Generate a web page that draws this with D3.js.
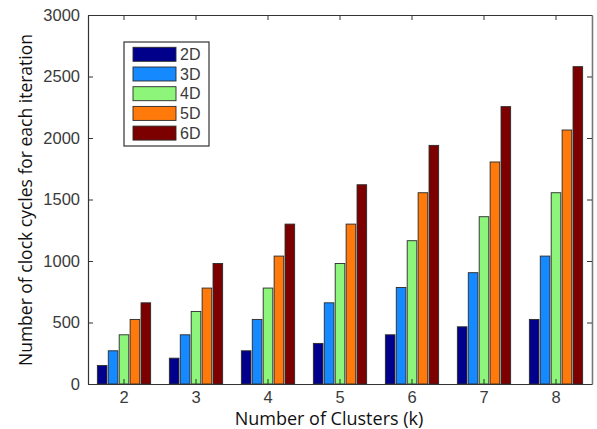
<!DOCTYPE html>
<html>
<head>
<meta charset="utf-8">
<script src="https://cdn.jsdelivr.net/npm/d3@7"></script>
<style>
  body { margin: 0; background: #fff; }
  svg { display: block; }
</style>
</head>
<body>
<div id="chart"></div>
<script>
// Data
const clusters = [2, 3, 4, 5, 6, 7, 8];
const seriesNames = ["2D", "3D", "4D", "5D", "6D"];
const seriesColors = ["#00008b", "#1589ff", "#8cf57a", "#ff7a0a", "#7d0000"];
const cycles2D = [150, 210, 270, 330, 400, 465, 525];
const cycles3D = [270, 400, 525, 660, 785, 905, 1040];
const cycles4D = [400, 590, 780, 980, 1165, 1360, 1555];
const cycles5D = [525, 780, 1040, 1300, 1555, 1805, 2065];
const cycles6D = [660, 980, 1300, 1620, 1940, 2255, 2580];
const yTicks = [0, 500, 1000, 1500, 2000, 2500, 3000];

const values = [cycles2D, cycles3D, cycles4D, cycles5D, cycles6D];

const width = 597, height = 429;
const margin = { top: 15, right: 5, bottom: 45, left: 88 };

const svg = d3.select("#chart").append("svg")
    .attr("width", width)
    .attr("height", height);

// Scales
const x = d3.scaleBand()
    .domain(clusters)
    .range([margin.left, width - margin.right])
    .padding(0);

const bw = x.bandwidth();
const xInner = d3.scaleBand()
    .domain(seriesNames)
    .range([bw * 0.13, bw * 0.87])
    .paddingInner(0.12);

const y = d3.scaleLinear()
    .domain([0, 3000])
    .range([height - margin.bottom, margin.top]);

// Bars
const rows = [];
clusters.forEach((k, i) => {
    seriesNames.forEach((s, j) => {
        rows.push({ k: k, s: s, v: values[j][i], c: seriesColors[j] });
    });
});

svg.append("g")
    .selectAll("rect")
    .data(rows)
    .join("rect")
    .attr("x", d => x(d.k) + xInner(d.s))
    .attr("y", d => y(d.v))
    .attr("width", xInner.bandwidth())
    .attr("height", d => y(0) - y(d.v))
    .attr("fill", d => d.c)
    .attr("stroke", "#2a2a2a")
    .attr("stroke-width", 0.9);

// Axes (ticks pointing inward, boxed frame)
const tickFont = "'Liberation Sans', Arial, sans-serif";

const xAxis = svg.append("g")
    .attr("transform", `translate(0,${y(0)})`)
    .call(d3.axisBottom(x).tickSizeInner(-5).tickSizeOuter(0).tickPadding(7));

const xAxisTop = svg.append("g")
    .attr("transform", `translate(0,${margin.top})`)
    .call(d3.axisTop(x).tickSizeInner(-5).tickSizeOuter(0).tickFormat(""));

const yAxis = svg.append("g")
    .attr("transform", `translate(${margin.left},0)`)
    .call(d3.axisLeft(y).tickValues(yTicks).tickFormat(d3.format("d"))
        .tickSizeInner(-5).tickSizeOuter(0).tickPadding(8));

const yAxisRight = svg.append("g")
    .attr("transform", `translate(${width - margin.right},0)`)
    .call(d3.axisRight(y).tickValues(yTicks).tickSizeInner(-5).tickSizeOuter(0).tickFormat(""));

[xAxis, xAxisTop, yAxis, yAxisRight].forEach(a => {
    a.select(".domain").attr("stroke", "#333").attr("stroke-width", 1.2);
    a.selectAll(".tick line").attr("stroke", "#333");
    a.selectAll(".tick text")
        .attr("fill", "#3a3a3a")
        .style("font-family", tickFont)
        .style("font-size", "16.5px");
});
yAxisRight.select(".domain").attr("stroke", "#777").attr("stroke-width", 1.6);

// Axis titles
svg.append("text")
    .attr("x", (margin.left + width - margin.right) / 2 - 11)
    .attr("y", 425)
    .attr("text-anchor", "middle")
    .style("font-family", "'Open Sans', sans-serif")
    .style("font-size", "18px")
    .attr("fill", "#111")
    .text("Number of Clusters (k)");

svg.append("text")
    .attr("transform", "translate(32,200) rotate(-90)")
    .attr("text-anchor", "middle")
    .style("font-family", "'Open Sans', sans-serif")
    .style("font-size", "17.5px")
    .attr("fill", "#111")
    .text("Number of clock cycles for each iteration");

// Legend
const legend = svg.append("g").attr("transform", "translate(124,42)");
legend.append("rect")
    .attr("width", 85)
    .attr("height", 104)
    .attr("fill", "#fff")
    .attr("stroke", "#333")
    .attr("stroke-width", 1.2);

const item = legend.selectAll("g.item")
    .data(seriesNames)
    .join("g")
    .attr("class", "item")
    .attr("transform", (d, i) => `translate(0,${12.3 + i * 19.7})`);

item.append("rect")
    .attr("x", 9)
    .attr("y", -7)
    .attr("width", 43)
    .attr("height", 14)
    .attr("fill", (d, i) => seriesColors[i])
    .attr("stroke", "#2a2a2a")
    .attr("stroke-width", 0.9);

item.append("text")
    .attr("x", 56)
    .attr("dy", "0.36em")
    .style("font-family", tickFont)
    .style("font-size", "16px")
    .attr("fill", "#3a3a3a")
    .text(d => d);
</script>
</body>
</html>
